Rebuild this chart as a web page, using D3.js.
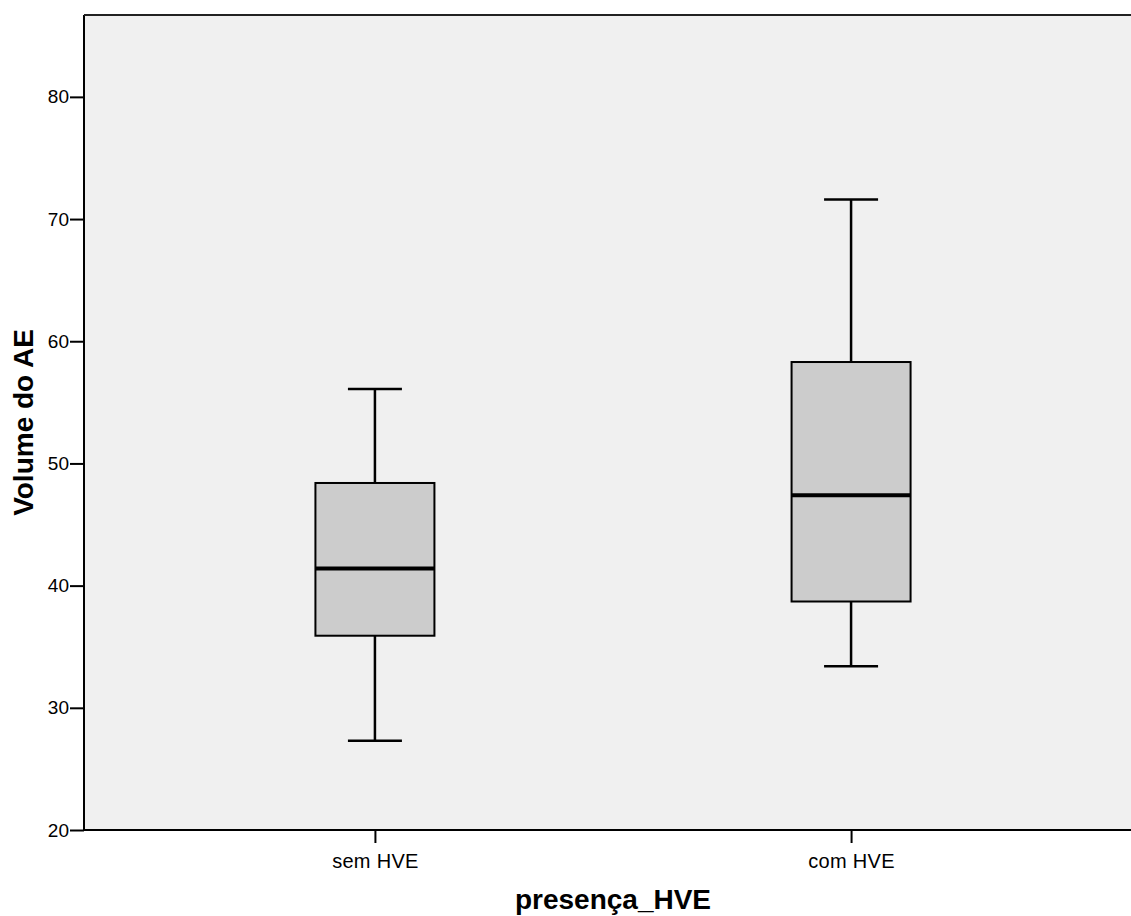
<!DOCTYPE html>
<html>
<head>
    <meta charset="utf-8">
    <title>Volume do AE por presença_HVE</title>
    <script src="https://cdn.jsdelivr.net/npm/d3@7"></script>
    <style>
    body {
        margin: 0;
        background: #fff;
    }
    svg text {
        font-family: "Liberation Sans", Arial, sans-serif;
        fill: #000;
    }
    .tick text {
        font-size: 19px;
    }
    .x-axis .tick text {
        font-size: 20px;
        letter-spacing: 0.3px;
    }
    .tick line {
        stroke: #000;
        stroke-width: 2px;
    }
    .title {
        font-size: 28px;
        font-weight: bold;
    }
    .box {
        fill: #cccccc;
        stroke: #000;
        stroke-width: 2px;
    }
    .whisker {
        stroke: #000;
        stroke-width: 2.5px;
    }
    .median {
        stroke: #000;
        stroke-width: 4px;
    }
    </style>
</head>
<body>
<script>

// values
var groups = ['sem HVE', 'com HVE'];
var whiskerLow = [27.3, 33.4];
var q1 = [35.9, 38.7];
var median = [41.4, 47.4];
var q3 = [48.4, 58.3];
var whiskerHigh = [56.1, 71.6];
var yTicks = [20, 30, 40, 50, 60, 70, 80];

(function() {
    var width = 1131, height = 916;
    var left = 84, top = 15, bottom = 830, right = 1142;
    var boxW = 119, capW = 54;

    var rows = groups.map(function(g, i) {
        return { name: g, lo: whiskerLow[i], q1: q1[i], med: median[i], q3: q3[i], hi: whiskerHigh[i] };
    });

    var svg = d3.select('body')
        .append('svg')
        .attr('width', width)
        .attr('height', height);

    var x = d3.scalePoint()
        .domain(groups)
        .range([left, right])
        .padding(0.611);

    var y = d3.scaleLinear()
        .domain([20, 86.7])
        .range([bottom, top]);

    // plot background
    svg.append('rect')
        .attr('x', left)
        .attr('y', top)
        .attr('width', right - left)
        .attr('height', bottom - top)
        .attr('fill', '#f0f0f0');

    // axes
    var yAxis = svg.append('g')
        .attr('class', 'y-axis')
        .attr('transform', 'translate(' + left + ',0)')
        .call(d3.axisLeft(y).tickValues(yTicks).tickSize(14).tickPadding(1));
    yAxis.select('.domain').remove();

    var xAxis = svg.append('g')
        .attr('class', 'x-axis')
        .attr('transform', 'translate(0,' + bottom + ')')
        .call(d3.axisBottom(x).tickSize(13).tickPadding(5));
    xAxis.select('.domain').remove();
    xAxis.selectAll('.tick text').attr('dy', '1.0em');

    // frame
    svg.append('line')
        .attr('x1', left).attr('x2', left)
        .attr('y1', top).attr('y2', bottom)
        .attr('stroke', '#000').attr('stroke-width', 2);
    svg.append('line')
        .attr('x1', left).attr('x2', width)
        .attr('y1', top).attr('y2', top)
        .attr('stroke', '#222').attr('stroke-width', 2);
    svg.append('line')
        .attr('x1', left - 1).attr('x2', width)
        .attr('y1', bottom).attr('y2', bottom)
        .attr('stroke', '#000').attr('stroke-width', 2);

    // boxes
    var g = svg.selectAll('.group')
        .data(rows)
        .enter().append('g')
        .attr('class', 'group');

    g.append('line')
        .attr('class', 'whisker')
        .attr('x1', function(d) { return x(d.name); })
        .attr('x2', function(d) { return x(d.name); })
        .attr('y1', function(d) { return y(d.hi); })
        .attr('y2', function(d) { return y(d.lo); });

    g.append('line')
        .attr('class', 'whisker')
        .attr('x1', function(d) { return x(d.name) - capW / 2; })
        .attr('x2', function(d) { return x(d.name) + capW / 2; })
        .attr('y1', function(d) { return y(d.hi); })
        .attr('y2', function(d) { return y(d.hi); });

    g.append('line')
        .attr('class', 'whisker')
        .attr('x1', function(d) { return x(d.name) - capW / 2; })
        .attr('x2', function(d) { return x(d.name) + capW / 2; })
        .attr('y1', function(d) { return y(d.lo); })
        .attr('y2', function(d) { return y(d.lo); });

    g.append('rect')
        .attr('class', 'box')
        .attr('x', function(d) { return x(d.name) - boxW / 2; })
        .attr('width', boxW)
        .attr('y', function(d) { return y(d.q3); })
        .attr('height', function(d) { return y(d.q1) - y(d.q3); });

    g.append('line')
        .attr('class', 'median')
        .attr('x1', function(d) { return x(d.name) - boxW / 2; })
        .attr('x2', function(d) { return x(d.name) + boxW / 2; })
        .attr('y1', function(d) { return y(d.med); })
        .attr('y2', function(d) { return y(d.med); });

    // titles
    svg.append('text')
        .attr('class', 'title')
        .attr('x', (left + right) / 2)
        .attr('y', 909)
        .attr('text-anchor', 'middle')
        .text('presença_HVE');

    svg.append('text')
        .attr('class', 'title')
        .attr('transform', 'translate(33,' + ((top + bottom) / 2) + ') rotate(-90)')
        .attr('text-anchor', 'middle')
        .text('Volume do AE');
}).call(this);

</script>
</body>
</html>
